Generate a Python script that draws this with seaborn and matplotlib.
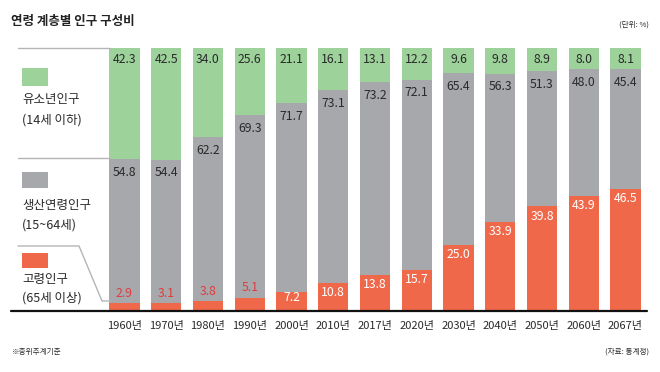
import matplotlib
matplotlib.use("Agg")
import matplotlib.pyplot as plt
from matplotlib.lines import Line2D
from matplotlib.patches import Rectangle
import seaborn as sns
import pandas as pd

# ---- data ----
years = ["1960년", "1970년", "1980년", "1990년", "2000년", "2010년", "2017년",
         "2020년", "2030년", "2040년", "2050년", "2060년", "2067년"]
youth = [42.3, 42.5, 34.0, 25.6, 21.1, 16.1, 13.1, 12.2, 9.6, 9.8, 8.9, 8.0, 8.1]
working = [54.8, 54.4, 62.2, 69.3, 71.7, 73.1, 73.2, 72.1, 65.4, 56.3, 51.3, 48.0, 45.4]
elderly = [2.9, 3.1, 3.8, 5.1, 7.2, 10.8, 13.8, 15.7, 25.0, 33.9, 39.8, 43.9, 46.5]

title = "연령 계층별 인구 구성비"
unit = "(단위: %)"
note = "※중위추계기준"
source = "(자료: 통계청)"
legend_names = [("유소년인구", "(14세 이하)"), ("생산연령인구", "(15~64세)"), ("고령인구", "(65세 이상)")]

GREEN = "#9dd39b"
GRAY = "#a7a8ac"
RED = "#f0684a"
RED_TXT = "#e03c3c"
DARK = "#2a2a2a"
LINE = "#b5b5b5"

sns.set_theme(style="white")
plt.rcParams["font.family"] = ["Noto Sans CJK KR", "DejaVu Sans"]

df = pd.DataFrame({"year": years, "youth": youth, "working": working, "elderly": elderly})
df["top"] = df["youth"] + df["working"] + df["elderly"]
df["mid"] = df["working"] + df["elderly"]

W, H = 660, 372
fig = plt.figure(figsize=(W / 100, H / 100), dpi=100)
fig.patch.set_facecolor("white")

def fx(x):
    return x / W

def fy(y):
    return 1 - y / H

ax = fig.add_axes([fx(103.6), fy(311), fx(646.4) - fx(103.6), fy(48) - fy(311)])

kw = dict(width=0.72, saturation=1, linewidth=0, edgecolor="none", ax=ax, order=years)
sns.barplot(data=df, x="year", y="top", color=GREEN, **kw)
sns.barplot(data=df, x="year", y="mid", color=GRAY, **kw)
sns.barplot(data=df, x="year", y="elderly", color=RED, **kw)

ax.set_xlim(-0.5, len(years) - 0.5)
ax.set_ylim(0, 100)
for s in ax.spines.values():
    s.set_visible(False)
ax.set_yticks([])
ax.set_xlabel("")
ax.set_ylabel("")
ax.set_xticks(range(len(years)))
ax.set_xticklabels(years, fontsize=8, color=DARK)
ax.tick_params(axis="x", which="major", length=0, pad=7)
ax.set_xticks([i + 0.5 for i in range(len(years))], minor=True)
ax.tick_params(axis="x", which="minor", length=12, width=1, color="#222222", direction="inout")

# value labels
FS = 8.8
for i in range(len(years)):
    y_, w_, e_ = youth[i], working[i], elderly[i]
    ax.text(i, 95.5, f"{y_:.1f}", ha="center", va="center", fontsize=FS, color=DARK)
    ax.text(i, e_ + w_ - 4.9, f"{w_:.1f}", ha="center", va="center", fontsize=FS, color=DARK)
    if e_ < 6:
        ax.text(i, e_ + 3.7, f"{e_:.1f}", ha="center", va="center", fontsize=FS, color=RED_TXT)
    else:
        ax.text(i, max(e_ - 3.7, 5.2), f"{e_:.1f}", ha="center", va="center", fontsize=FS, color="white")

# baseline
fig.add_artist(Line2D([fx(11), fx(646.5)], [fy(311), fy(311)], color="#111111", lw=1.6))

# legend decorations
fig.add_artist(Line2D([fx(18), fx(110)], [fy(48), fy(48)], color=LINE, lw=1))
fig.add_artist(Line2D([fx(18), fx(110)], [fy(158), fy(158)], color=LINE, lw=1))
fig.add_artist(Line2D([fx(18), fx(79), fx(102), fx(110)],
                      [fy(246), fy(246), fy(301), fy(301)], color=LINE, lw=1))

squares = [(68, 86, GREEN), (172, 188, GRAY), (253, 268, RED)]
for (y0, y1, c) in squares:
    fig.add_artist(Rectangle((fx(22), fy(y1)), fx(48) - fx(22), fy(y0) - fy(y1),
                             facecolor=c, edgecolor="none", transform=fig.transFigure))

text_y = [(99, 120), (206, 225), (280, 298)]
for (n1, n2), (y1, y2) in zip(legend_names, text_y):
    fig.text(fx(22), fy(y1), n1, ha="left", va="center", fontsize=9, color=DARK)
    fig.text(fx(22), fy(y2), n2, ha="left", va="center", fontsize=9, color=DARK)

fig.text(fx(11), fy(22), title, ha="left", va="center", fontsize=9, fontweight="bold", color="#222222")
fig.text(fx(649), fy(25), unit, ha="right", va="center", fontsize=5.5, color=DARK)
fig.text(fx(12), fy(352), note, ha="left", va="center", fontsize=5.5, color=DARK)
fig.text(fx(649), fy(352), source, ha="right", va="center", fontsize=5.5, color=DARK)

fig.savefig("out.png", dpi=100, facecolor="white")
